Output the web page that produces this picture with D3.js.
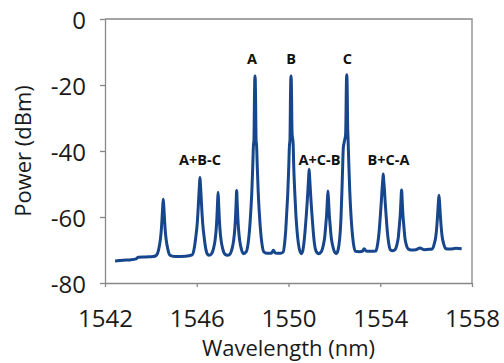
<!DOCTYPE html>
<html>
<head>
<meta charset="utf-8">
<script src="https://cdn.jsdelivr.net/npm/d3@7"></script>
<style>
  html, body { margin: 0; padding: 0; background: #fff; }
  svg { display: block; font-family: "Open Sans", sans-serif; }
</style>
</head>
<body>
<div id="chart"></div>
<script>
// ticks
const xTicks = [1542, 1546, 1550, 1554, 1558]
const yTicks = [0, -20, -40, -60, -80]

// spectrum trace: [wavelength nm, power dBm]
const trace = [
  [1542.44,-73.3],[1542.8,-73.1],[1543.1,-73.0],[1543.36,-72.7],[1543.45,-72.2],[1543.8,-72.1],[1544.1,-72.0],
  [1544.24,-71.6],[1544.34,-69.8],[1544.41,-67],[1544.46,-63.5],[1544.49,-60],[1544.515,-57],[1544.54,-54.6],
  [1544.565,-57],[1544.59,-60],[1544.62,-63.5],[1544.67,-67],[1544.74,-69.8],[1544.84,-71.6],
  [1545.1,-72.0],[1545.5,-71.9],
  [1545.80,-71.5],[1545.89,-69.5],[1545.96,-66],[1546.02,-62],[1546.065,-57],[1546.095,-53],[1546.12,-50],[1546.14,-48],
  [1546.16,-50],[1546.185,-53],[1546.215,-57],[1546.26,-62],[1546.32,-66],[1546.39,-69.5],[1546.47,-71.3],
  [1546.54,-71.6],
  [1546.63,-71.3],[1546.73,-69.6],[1546.80,-67],[1546.85,-63.5],[1546.88,-60],[1546.905,-56],[1546.93,-52.5],
  [1546.955,-56],[1546.98,-60],[1547.01,-63.5],[1547.06,-67],[1547.13,-69.6],[1547.23,-71.3],
  [1547.34,-71.6],
  [1547.44,-71.3],[1547.54,-69.6],[1547.61,-67],[1547.66,-63.5],[1547.69,-60],[1547.715,-56],[1547.74,-52],
  [1547.765,-56],[1547.79,-60],[1547.82,-63.5],[1547.87,-67],[1547.94,-69.6],[1548.04,-71.1],
  [1548.16,-70.5],[1548.24,-68],[1548.30,-64],[1548.35,-59],[1548.40,-52.5],[1548.44,-45],[1548.47,-38.5],
  [1548.495,-36.5],[1548.505,-31],[1548.515,-24],[1548.528,-18.5],[1548.54,-17.3],
  [1548.552,-18.5],[1548.565,-24],[1548.575,-31],[1548.585,-36.5],[1548.61,-38.5],[1548.64,-45],[1548.68,-52.5],
  [1548.73,-59],[1548.78,-64],[1548.84,-68],[1548.92,-70.5],
  [1549.05,-71.0],[1549.25,-71.0],[1549.34,-70.1],[1549.42,-70.9],[1549.65,-71.0],
  [1549.77,-70.6],[1549.83,-68],[1549.88,-64],[1549.92,-59],[1549.97,-52.5],[1550.01,-45],[1550.04,-38.5],
  [1550.065,-36.5],[1550.075,-31],[1550.085,-24],[1550.098,-18.5],[1550.11,-17.3],
  [1550.122,-18.5],[1550.135,-24],[1550.145,-31],[1550.16,-35],[1550.20,-37.5],[1550.23,-45],[1550.27,-52],
  [1550.32,-59],[1550.37,-64],[1550.43,-68],[1550.55,-71.1],
  [1550.62,-70.3],[1550.67,-68],[1550.72,-64.5],[1550.77,-60],[1550.815,-55.5],[1550.85,-51.5],[1550.878,-48],[1550.90,-45.5],
  [1550.922,-48],[1550.95,-51.5],[1550.985,-55.5],[1551.03,-60],[1551.08,-64.5],[1551.13,-68],[1551.20,-70.3],
  [1551.31,-71.1],
  [1551.42,-70.6],[1551.52,-68.5],[1551.58,-66],[1551.63,-62],[1551.66,-59.5],[1551.69,-55.5],[1551.72,-52.1],
  [1551.75,-55.5],[1551.78,-59.5],[1551.81,-62],[1551.86,-66],[1551.92,-68.5],[1552.0,-70.5],
  [1552.08,-71.1],
  [1552.14,-70.5],[1552.20,-68.5],[1552.25,-65],[1552.29,-60],[1552.33,-52],[1552.36,-45],[1552.39,-39],
  [1552.44,-37],[1552.49,-35],[1552.505,-30],[1552.515,-24],[1552.528,-18],[1552.54,-16.9],
  [1552.552,-18],[1552.565,-24],[1552.575,-31],[1552.60,-37],[1552.63,-44],[1552.67,-52],[1552.72,-59],
  [1552.77,-64],[1552.83,-68],[1552.91,-70.4],
  [1553.1,-70.5],[1553.22,-70.4],[1553.3,-69.6],[1553.38,-70.3],[1553.55,-70.4],
  [1553.81,-70.3],[1553.89,-68],[1553.95,-64.5],[1554.0,-60],[1554.045,-55.5],[1554.08,-51.5],[1554.108,-49],[1554.13,-47],
  [1554.152,-49],[1554.18,-51.5],[1554.215,-55.5],[1554.26,-60],[1554.31,-64.5],[1554.37,-68],[1554.45,-70.0],
  [1554.53,-70.2],
  [1554.63,-70.0],[1554.73,-68.3],[1554.79,-66],[1554.84,-62],[1554.87,-59.5],[1554.90,-55.5],[1554.93,-51.8],
  [1554.96,-55.5],[1554.99,-59.5],[1555.02,-62],[1555.07,-66],[1555.13,-68.3],[1555.22,-69.7],
  [1555.35,-70.0],[1555.55,-69.9],[1555.73,-69.4],[1555.9,-69.9],[1556.15,-69.8],
  [1556.26,-69.7],[1556.36,-68],[1556.42,-66],[1556.47,-62.5],[1556.50,-59.5],[1556.53,-56],[1556.56,-53.4],
  [1556.59,-56],[1556.62,-59.5],[1556.65,-62.5],[1556.70,-66],[1556.76,-68],[1556.86,-69.6],
  [1557.05,-69.7],[1557.3,-69.5],[1557.55,-69.6]
]

// peak annotations
const labelText = ["A", "B", "C", "A+B-C", "A+C-B", "B+C-A"]
const labelNm   = [1548.41, 1550.11, 1552.57, 1546.14, 1551.35, 1554.36]
const labelDbm  = [-13.6, -13.6, -13.6, -44.2, -44.2, -44.2]

const width = 504, height = 363
const margin = { top: 19, right: 32, bottom: 80, left: 105 }
const axisColor = "#888888"
const lineColor = "#17468c"

const svg = d3.select("#chart").append("svg")
  .attr("width", width)
  .attr("height", height)

const x = d3.scaleLinear()
  .domain([1542, 1558])
  .range([margin.left, width - margin.right])

const y = d3.scaleLinear()
  .domain([-80, 0])
  .range([height - margin.bottom, margin.top])

// frame (top + right)
svg.append("path")
  .attr("d", `M${x(1542)},${y(0)}H${x(1558)}V${y(-80)}`)
  .attr("fill", "none")
  .attr("stroke", axisColor)
  .attr("stroke-width", 1.3)

// axes
const xAxis = svg.append("g")
  .attr("transform", `translate(0,${y(-80)})`)
  .call(d3.axisBottom(x).tickValues(xTicks).tickFormat(d3.format("d")).tickSizeInner(4).tickSizeOuter(0))
xAxis.selectAll(".domain, .tick line").attr("stroke", axisColor).attr("stroke-width", 1.3)
xAxis.selectAll(".tick text")
  .attr("dy", null)
  .attr("y", 44)
  .attr("fill", "#1a1a1a")
  .attr("font-size", "24px")
  .attr("font-family", "Open Sans, sans-serif")

const yAxis = svg.append("g")
  .attr("transform", `translate(${x(1542)},0)`)
  .call(d3.axisLeft(y).tickValues(yTicks).tickFormat(d => d === 0 ? "0" : "-" + Math.abs(d)).tickSizeInner(5).tickSizeOuter(0))
yAxis.selectAll(".domain, .tick line").attr("stroke", axisColor).attr("stroke-width", 1.3)
yAxis.selectAll(".tick text")
  .attr("x", -19)
  .attr("dy", "0.4em")
  .attr("fill", "#1a1a1a")
  .attr("font-size", "24px")
  .attr("font-family", "Open Sans, sans-serif")

// axis titles
svg.append("text")
  .attr("x", (x(1542) + x(1558)) / 2)
  .attr("y", 356)
  .attr("text-anchor", "middle")
  .attr("font-size", "22px")
  .attr("fill", "#1a1a1a")
  .text("Wavelength (nm)")

svg.append("text")
  .attr("transform", `translate(31,${(y(0) + y(-80)) / 2}) rotate(-90)`)
  .attr("text-anchor", "middle")
  .attr("font-size", "22px")
  .attr("fill", "#1a1a1a")
  .text("Power (dBm)")

// spectrum
const line = d3.line()
  .x(d => x(d[0]))
  .y(d => y(d[1]))
  .curve(d3.curveMonotoneX)

svg.append("path")
  .datum(trace)
  .attr("d", line)
  .attr("fill", "none")
  .attr("stroke", lineColor)
  .attr("stroke-width", 3)
  .attr("stroke-linejoin", "round")

// labels
svg.selectAll(".peak-label")
  .data(labelText)
  .join("text")
  .attr("class", "peak-label")
  .attr("x", (d, i) => x(labelNm[i]))
  .attr("y", (d, i) => y(labelDbm[i]))
  .attr("text-anchor", "middle")
  .attr("font-size", "14.5px")
  .attr("font-weight", "bold")
  .attr("fill", "#111")
  .text(d => d)
</script>
</body>
</html>
